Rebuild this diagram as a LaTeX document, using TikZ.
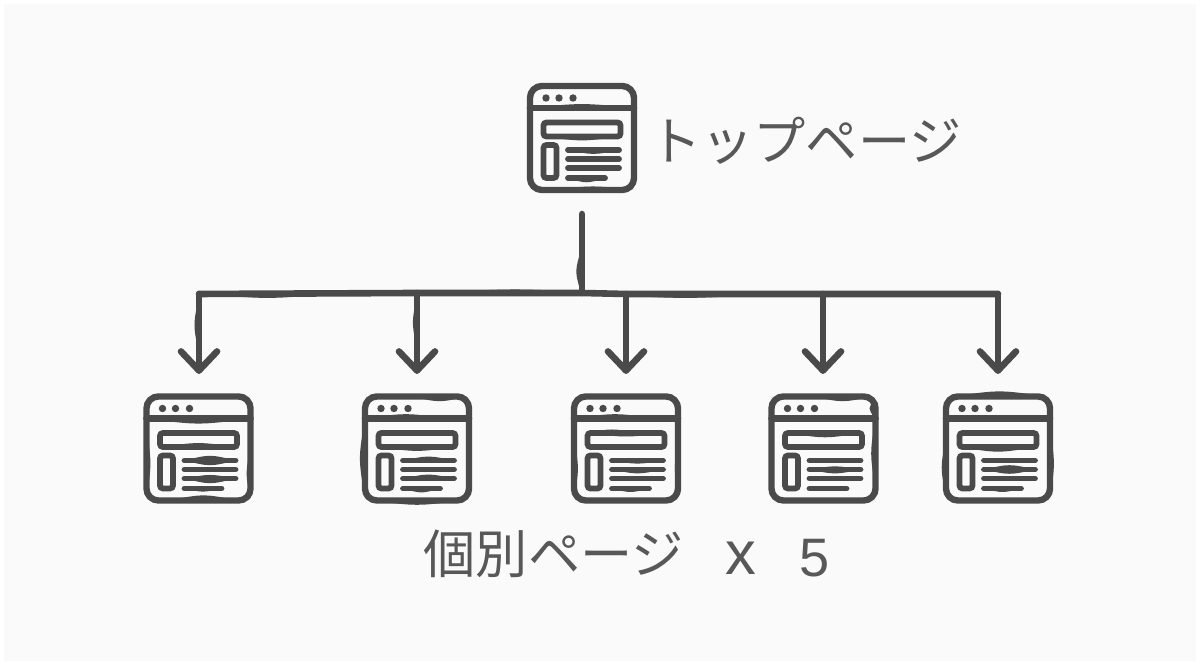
\documentclass[tikz,border=0pt]{standalone}
\usepackage{fontspec}
\usetikzlibrary{calc}
\newfontfamily\jpfont{Noto Sans CJK JP}
\setmainfont{Liberation Sans}
\definecolor{ink}{HTML}{4A4A4A}
\definecolor{txt}{HTML}{585858}
\definecolor{paper}{HTML}{FAFAFA}
\newcommand{\hlens}[4]{\fill[ink] (#1,#3) .. controls ({(#1+#2)/2},{#3+0.52*(#4)}) .. (#2,#3) -- cycle;}
\newcommand{\vlens}[4]{\fill[ink] (#3,#1) .. controls ({#3+0.52*(#4)},{(#1+#2)/2}) .. (#3,#2) -- cycle;}
\tikzset{
  x=0.01cm,y=-0.01cm,
  frame/.style={draw=ink,line width=0.064cm,rounded corners=0.12cm,minimum width=1.04cm,minimum height=1.04cm,inner sep=0pt,outer sep=0pt},
  stroke/.style={draw=ink,line width=0.066cm,line cap=round,line join=round},
  bar/.style={draw=ink,line width=0.058cm,line cap=round},
  thin box/.style={draw=ink,line width=0.058cm,rounded corners=0.03cm},
  dotm/.style={fill=ink,draw=none},
  arrowhd/.style={stroke},
  label/.style={text=txt,inner sep=0pt,font=\fontsize{14.85pt}{14.85pt}\selectfont\jpfont},
  pics/webicon/.style={code={
    \draw[stroke] (-52,-30) -- (52,-30);
    \foreach \dx in {-36,-23,-9} \fill[dotm] (\dx,-40) circle (0.037cm);
    \draw[thin box] (-38.5,-15.5) rectangle (38.5,-1.5);
    \draw[thin box] (-38.5,7) rectangle (-25.5,40);
    \draw[bar] (-14,12) -- (37,12);
    \draw[bar] (-14,21) -- (37,21);
    \draw[bar] (-14,30) -- (37,30);
    \draw[bar] (-14,40) -- (23,40);
  }}
}
\begin{document}
\begin{tikzpicture}
\useasboundingbox (0,0) rectangle (1200,668);
\fill[white] (0,0) rectangle (1200,668);
\fill[paper] (4,4) rectangle (1196,661);
% page icons
\node[frame] (top) at (582,138) {};
\pic at (top.center) {webicon};
\node[frame] (p1) at (198.5,448.5) {};
\pic at (p1.center) {webicon};
\node[frame] (p2) at (417,448.5) {};
\pic at (p2.center) {webicon};
\node[frame] (p3) at (626,448.5) {};
\pic at (p3.center) {webicon};
\node[frame] (p4) at (823.5,448.5) {};
\pic at (p4.center) {webicon};
\node[frame] (p5) at (998,448.5) {};
\pic at (p5.center) {webicon};
% hand-drawn thickenings
\begin{scope}[shift={(top.center)}]
  \hlens{-52}{52}{-30}{-10}\hlens{-30}{52}{52}{-9}\hlens{-38}{38}{-1.5}{10}\hlens{-14}{23}{40}{11}\hlens{-14}{37}{12}{10}
\end{scope}
\begin{scope}[shift={(p1.center)}]
  \hlens{-52}{52}{-30}{13}\hlens{-30}{40}{52}{-13}\hlens{-38}{38}{-1.5}{-10}\vlens{-20}{50}{-52}{10}\vlens{0}{50}{52}{-10}
  \hlens{-14}{37}{12}{-12}\hlens{-14}{37}{12}{12}\hlens{-14}{37}{30}{12}\hlens{-14}{37}{30}{-9}\hlens{-14}{23}{40}{8}
\end{scope}
\begin{scope}[shift={(p2.center)}]
  \hlens{-5}{50}{-52}{12}\hlens{-52}{30}{-30}{-11}\vlens{-30}{50}{-52}{-13}\hlens{-45}{45}{52}{11}\hlens{-38}{38}{-1.5}{10}
  \hlens{-14}{37}{12}{-10}\hlens{-14}{37}{30}{-10}\hlens{-14}{23}{40}{10}
\end{scope}
\begin{scope}[shift={(p3.center)}]
  \hlens{-52}{30}{-30}{-11}\vlens{-10}{50}{-52}{10}\vlens{-10}{50}{52}{-8}\hlens{-38}{10}{-15.5}{-9}\hlens{-38}{38}{-15.5}{9}
  \hlens{-14}{37}{21}{10}\hlens{-14}{23}{40}{9}\hlens{-14}{37}{12}{8}
\end{scope}
\begin{scope}[shift={(p4.center)}]
  \hlens{-10}{48}{-52}{12}\vlens{-30}{40}{52}{-11}\vlens{-48}{-32}{50}{-10}\hlens{-35}{38}{-15.5}{11}
  \hlens{-14}{37}{21}{10}\hlens{-14}{37}{21}{-8}
\end{scope}
\begin{scope}[shift={(p5.center)}]
  \hlens{-45}{48}{-52}{-13}\vlens{-10}{48}{-52}{-11}\vlens{-20}{50}{52}{10}\hlens{-38}{38}{-1.5}{12}
  \hlens{-14}{37}{21}{-11}\hlens{-14}{37}{21}{11}\hlens{-14}{23}{40}{9}
\end{scope}
% connector trunk
\coordinate (hub) at (582,293);
\coordinate (h1) at (199,294);
\coordinate (h2) at (417,293);
\coordinate (h3) at (626,294);
\coordinate (h4) at (823,294);
\coordinate (h5) at (998,294);
\draw[stroke] ([yshift=-0.24cm]top.south) -- (hub);
\draw[stroke] (h1) -- (h2) -- (hub) -- (h3) -- (h4) -- (h5);
\foreach \i in {1,...,5}{
  \path (h\i |- p\i.north) ++(0,-26) coordinate (t\i);
  \draw[stroke] (h\i) -- (t\i);
  \draw[arrowhd] ($(t\i)+(-18,-19)$) -- (t\i) -- ($(t\i)+(18,-19)$);
}
\vlens{250}{293}{581}{-12}
\hlens{205}{330}{294}{10}\hlens{600}{770}{294}{10}\hlens{430}{600}{293}{-9}
\vlens{300}{350}{198}{-9}\vlens{300}{345}{416}{-8}
% labels
\node[label,anchor=west] (toplabel) at (648.5,141) {トップページ};
\node[label,anchor=west] (sublabel) at (423,554) {個別ページ};
\node[label,anchor=center,font=\fontsize{17.5pt}{17.5pt}\selectfont] (x) at (741,558) {x};
\node[label,anchor=center,font=\fontsize{15.4pt}{15.4pt}\selectfont] (n) at (815,558) {5};
\end{tikzpicture}
\end{document}
